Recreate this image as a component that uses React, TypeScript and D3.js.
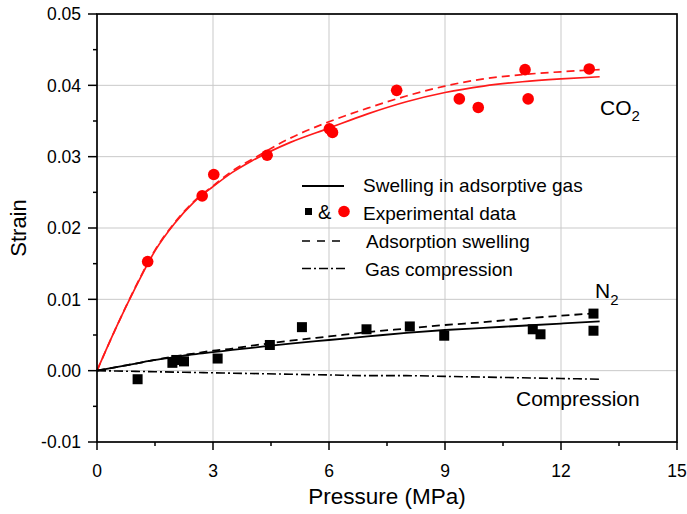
import React from 'react';
import * as d3 from 'd3';

// pressure grid for the fitted curves (MPa)
const curveP = [0, 0.5, 1, 1.5, 2, 2.5, 3, 3.5, 4, 5, 6, 7, 8, 9, 10, 11, 12, 13];
const co2Swelling = [0, 0.0061, 0.0117, 0.0168, 0.0206, 0.0236, 0.0258, 0.0278, 0.0294, 0.032, 0.034, 0.036, 0.0377, 0.039, 0.0399, 0.0405, 0.0409, 0.0412];
const co2Adsorption = [0, 0.0061, 0.0118, 0.0169, 0.0207, 0.0237, 0.0259, 0.028, 0.0296, 0.0326, 0.0349, 0.0368, 0.0385, 0.0399, 0.0409, 0.0415, 0.0419, 0.0422];
const n2Swelling = [0, 0.0005, 0.001, 0.0015, 0.0019, 0.0023, 0.0026, 0.0029, 0.0032, 0.0038, 0.0043, 0.0048, 0.0053, 0.0057, 0.006, 0.0063, 0.0066, 0.0069];
const n2Adsorption = [0, 0.0005, 0.001, 0.0015, 0.002, 0.0024, 0.0028, 0.0031, 0.0035, 0.0042, 0.0048, 0.0054, 0.0059, 0.0064, 0.0068, 0.0073, 0.0077, 0.0081];
const gasCompression = [0, -0.00005, -0.0001, -0.00015, -0.0002, -0.00025, -0.0003, -0.00035, -0.0004, -0.0005, -0.0006, -0.0007, -0.0007, -0.0008, -0.0009, -0.001, -0.0011, -0.0012];

// experimental points
const co2P = [1.31, 2.72, 3.02, 4.4, 6.01, 6.09, 7.75, 9.37, 9.86, 11.07, 11.15, 12.73];
const co2Strain = [0.0153, 0.0245, 0.0275, 0.0302, 0.0339, 0.0334, 0.0393, 0.0381, 0.0369, 0.0422, 0.0381, 0.0423];
const n2P = [1.05, 1.95, 2.05, 2.25, 3.12, 4.47, 5.3, 6.97, 8.09, 8.98, 11.27, 11.47, 12.84, 12.84];
const n2Strain = [-0.0012, 0.0011, 0.0015, 0.0013, 0.0017, 0.0036, 0.0061, 0.0058, 0.0062, 0.0049, 0.0058, 0.0051, 0.008, 0.0056];

const xTicks = [0, 3, 6, 9, 12, 15];
const xMinor = [1.5, 4.5, 7.5, 10.5, 13.5];
const yTicks = [-0.01, 0, 0.01, 0.02, 0.03, 0.04, 0.05];
const yMinor = [-0.005, 0.005, 0.015, 0.025, 0.035, 0.045];

const W = 687, H = 514;
const left = 97, right = 677, top = 14, bottom = 442;
const font = "'Liberation Sans', Arial, sans-serif";
const DASH = '8,5';
const DASHDOT = '9,3,2,3';

export default function App() {
  const x = d3.scaleLinear().domain([0, 15]).range([left, right]);
  const y = d3.scaleLinear().domain([-0.01, 0.05]).range([bottom, top]);

  const line = (vals: number[]) =>
    d3.line<number>()
      .x((_, i) => x(curveP[i]))
      .y(d => y(d))
      .curve(d3.curveMonotoneX)(vals) || '';

  return (
    <svg width={W} height={H} style={{ position: 'absolute', left: 0, top: 0, background: '#fff' }}
      fontFamily={font}>
      {/* grid */}
      {xTicks.slice(1, -1).map(t => (
        <line key={'gx' + t} x1={x(t)} x2={x(t)} y1={top} y2={bottom} stroke="#c9c9c9" strokeWidth={1} />
      ))}
      {yTicks.slice(1, -1).map(t => (
        <line key={'gy' + t} x1={left} x2={right} y1={y(t)} y2={y(t)} stroke="#c9c9c9" strokeWidth={1} />
      ))}

      {/* curves */}
      <path d={line(co2Swelling)} fill="none" stroke="#ff1a1a" strokeWidth={1.7} />
      <path d={line(co2Adsorption)} fill="none" stroke="#ff1a1a" strokeWidth={1.7} strokeDasharray={DASH} />
      <path d={line(n2Swelling)} fill="none" stroke="#000" strokeWidth={1.8} />
      <path d={line(n2Adsorption)} fill="none" stroke="#000" strokeWidth={1.8} strokeDasharray={DASH} />
      <path d={line(gasCompression)} fill="none" stroke="#000" strokeWidth={1.6} strokeDasharray={DASHDOT} />

      {/* points */}
      {n2P.map((p, i) => (
        <rect key={'n' + i} x={x(p) - 5} y={y(n2Strain[i]) - 5} width={10} height={10} fill="#000" />
      ))}
      {co2P.map((p, i) => (
        <circle key={'c' + i} cx={x(p)} cy={y(co2Strain[i])} r={5.8} fill="#ff0000" />
      ))}

      {/* frame */}
      <rect x={left} y={top} width={right - left} height={bottom - top} fill="none" stroke="#000" strokeWidth={1.7} />

      {/* y axis ticks */}
      {yTicks.map(t => (
        <g key={'yt' + t}>
          <line x1={left - 9} x2={left} y1={y(t)} y2={y(t)} stroke="#000" strokeWidth={1.5} />
          <text x={81} y={y(t)} dy="0.36em" textAnchor="end" fontSize={17.5}>{t.toFixed(2)}</text>
        </g>
      ))}
      {yMinor.map(t => (
        <line key={'ym' + t} x1={left - 4} x2={left} y1={y(t)} y2={y(t)} stroke="#000" strokeWidth={1.5} />
      ))}

      {/* x axis ticks */}
      {xTicks.map(t => (
        <g key={'xt' + t}>
          <line x1={x(t)} x2={x(t)} y1={bottom} y2={bottom + 8} stroke="#000" strokeWidth={1.5} />
          <text x={x(t)} y={477} textAnchor="middle" fontSize={17.5}>{t}</text>
        </g>
      ))}
      {xMinor.map(t => (
        <line key={'xm' + t} x1={x(t)} x2={x(t)} y1={bottom} y2={bottom + 4} stroke="#000" strokeWidth={1.5} />
      ))}

      {/* axis titles */}
      <text x={387} y={504} textAnchor="middle" fontSize={22.5}>Pressure (MPa)</text>
      <text transform={`translate(26,${(top + bottom) / 2}) rotate(-90)`} textAnchor="middle" fontSize={22}>Strain</text>

      {/* legend */}
      <g fontSize={19}>
        <line x1={302} x2={344} y1={186} y2={186} stroke="#000" strokeWidth={1.8} />
        <text x={363} y={192}>Swelling in adsorptive gas</text>
        <rect x={305} y={208} width={7} height={7} fill="#000" />
        <text x={318} y={219} fontSize={20}>&amp;</text>
        <circle cx={344} cy={211.5} r={5.8} fill="#ff0000" />
        <text x={363} y={220}>Experimental data</text>
        <line x1={302} x2={346} y1={241} y2={241} stroke="#000" strokeWidth={1.6} strokeDasharray="8,7" />
        <text x={366} y={248}>Adsorption swelling</text>
        <line x1={302} x2={346} y1={268.5} y2={268.5} stroke="#000" strokeWidth={1.5} strokeDasharray="9,3,2,3" />
        <text x={365} y={276}>Gas compression</text>
      </g>

      {/* annotations */}
      <text x={600} y={115} fontSize={21}>CO<tspan fontSize={15} dy={6}>2</tspan></text>
      <text x={595} y={298} fontSize={21}>N<tspan fontSize={15} dy={7}>2</tspan></text>
      <text x={516} y={406} fontSize={21}>Compression</text>
    </svg>
  );
}
